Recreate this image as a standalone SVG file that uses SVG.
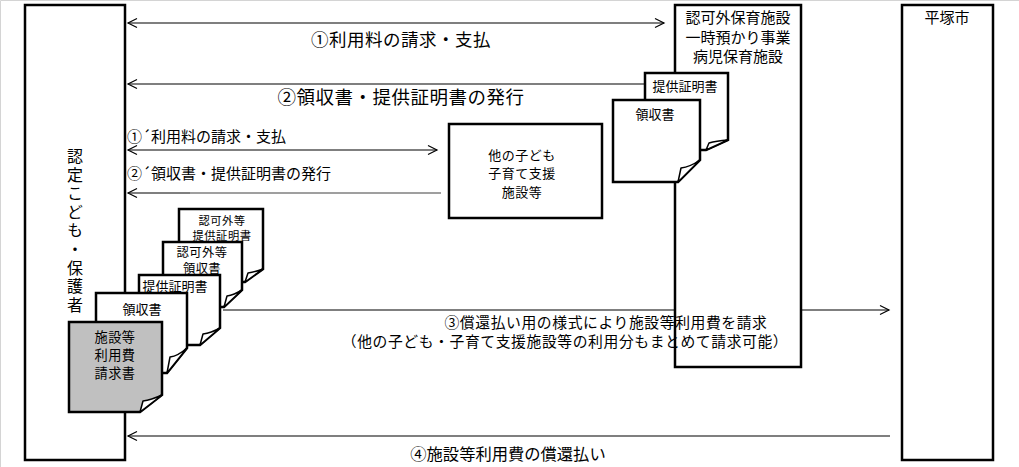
<svg xmlns="http://www.w3.org/2000/svg" width="1019" height="467" viewBox="0 0 1019 467">
<style>
text{font-family:"Noto Sans CJK JP","Noto Sans",sans-serif;fill:#000;dominant-baseline:central}
.box{fill:#fff;stroke:#000;stroke-width:2.5}
.doc{fill:#fff;stroke:#000;stroke-width:2.5;stroke-linejoin:miter}
.fold{fill:#fff;stroke:#000;stroke-width:1.5;stroke-linejoin:round}
.ln{fill:none;stroke:#000;stroke-width:1.2}
.c{text-anchor:middle}
</style>
<defs>
<marker id="arr" markerUnits="userSpaceOnUse" markerWidth="12" markerHeight="12" viewBox="0 0 12 12" refX="10" refY="6" orient="auto-start-reverse">
<path d="M1,1.5 L10,6 L1,10.5" fill="none" stroke="#000" stroke-width="1.2"/>
</marker>
</defs>
<rect x="0" y="0" width="1019" height="467" fill="#fff"/>
<path d="M0.5,467 V0.5 H1019" fill="none" stroke="#d4d4d4" stroke-width="1"/>

<g id="connectors">
<path class="ln" d="M128,23 H664" marker-start="url(#arr)" marker-end="url(#arr)"/>
<path class="ln" d="M128,84 H645" marker-start="url(#arr)"/>
<path class="ln" d="M128,150 H437" marker-start="url(#arr)" marker-end="url(#arr)"/>
<path class="ln" d="M128,193 H190" marker-start="url(#arr)"/>
<path d="M190,193 H441" fill="none" stroke="#7f7f7f" stroke-width="1.5"/>
<path class="ln" d="M223,310 H889" marker-end="url(#arr)"/>
<path class="ln" d="M128,436 H890" marker-start="url(#arr)"/>
</g>

<g id="guardian">
<rect class="box" x="25" y="5" width="100" height="455"/>
<text x="75" y="148" font-size="16" letter-spacing="2.6" style="writing-mode:vertical-rl;dominant-baseline:auto">認定こども・保護者</text>
</g>

<g id="facility">
<rect class="box" x="675" y="5" width="126" height="362"/>
<text class="c" font-size="15"><tspan x="738" y="16">認可外保育施設</tspan><tspan x="738" y="36">一時預かり事業</tspan><tspan x="738" y="55">病児保育施設</tspan></text>
</g>

<g id="city">
<rect class="box" x="902" y="5" width="91" height="455"/>
<text class="c" x="947" y="16" font-size="15">平塚市</text>
</g>

<g id="other">
<rect class="box" x="449" y="124" width="153" height="94"/>
<text class="c" font-size="13" letter-spacing="0.5"><tspan x="522" y="154">他の子ども</tspan><tspan x="522" y="172">子育て支援</tspan><tspan x="522" y="191">施設等</tspan></text>
</g>

<g id="labels">
<text class="c" x="401" y="38" font-size="17.5" letter-spacing="0.5">①利用料の請求・支払</text>
<text class="c" x="401" y="96" font-size="18.5" letter-spacing="0.5">②領収書・提供証明書の発行</text>
<text x="127" y="135" font-size="15">①´利用料の請求・支払</text>
<text x="127" y="172" font-size="15">②´領収書・提供証明書の発行</text>
<text class="c" font-size="14.8" letter-spacing="0.6"><tspan x="606" y="320.5">③償還払い用の様式により施設等利用費を請求</tspan><tspan x="565" y="339.5">（他の子ども・子育て支援施設等の利用分もまとめて請求可能）</tspan></text>
<text class="c" x="508" y="453" font-size="16.3">④施設等利用費の償還払い</text>
</g>

<g id="doc-right-cert">
<path class="doc" d="M645,73 H728 V140 L706,150 H645 Z"/>
<path class="fold" d="M706,150 L709,143 Q716,141 728,140 Z"/>
<text class="c" x="685" y="85" font-size="13">提供証明書</text>
</g>
<g id="doc-right-receipt">
<path class="doc" d="M613,100 H700 V160 L678,182 H613 Z"/>
<path class="fold" d="M678,182 L681,168 Q690,167 700,160 Z"/>
<text class="c" x="655" y="113" font-size="13">領収書</text>
</g>

<g id="doc-b">
<path class="doc" d="M179,209 H263 V269 L245,282 H179 Z"/>
<path class="fold" d="M245,282 L248,273 Q255,272 263,269 Z"/>
<text class="c" font-size="11.3" letter-spacing="0.5"><tspan x="222" y="220">認可外等</tspan><tspan x="222" y="234.5">提供証明書</tspan></text>
</g>
<g id="doc-c">
<path class="doc" d="M163,242 H242 V290 L224,307 H163 Z"/>
<path class="fold" d="M224,307 L227,296 Q234,295 242,290 Z"/>
<text class="c" font-size="12.3" letter-spacing="0.4"><tspan x="202" y="251.5">認可外等</tspan><tspan x="202" y="267.5">領収書</tspan></text>
</g>
<g id="doc-d">
<path class="doc" d="M139,275 H220 V328 L200,345 H139 Z"/>
<path class="fold" d="M200,345 L203,334 Q211,333 220,328 Z"/>
<text class="c" x="175" y="285" font-size="13">提供証明書</text>
</g>
<g id="doc-e">
<path class="doc" d="M96,293 H187 V348 L167,373 H96 Z"/>
<path class="fold" d="M167,373 L170,357 Q178,356 187,348 Z"/>
<text class="c" x="142" y="308" font-size="13">領収書</text>
</g>
<g id="doc-f">
<path class="doc" d="M69,322 H162 V395 L140,412 H69 Z" style="fill:#c0c0c0"/>
<path class="fold" d="M140,412 L143,401 Q151,400 162,395 Z"/>
<text class="c" font-size="13.2" letter-spacing="0.4"><tspan x="115" y="336">施設等</tspan><tspan x="115" y="354">利用費</tspan><tspan x="115" y="372">請求書</tspan></text>
</g>
</svg>
